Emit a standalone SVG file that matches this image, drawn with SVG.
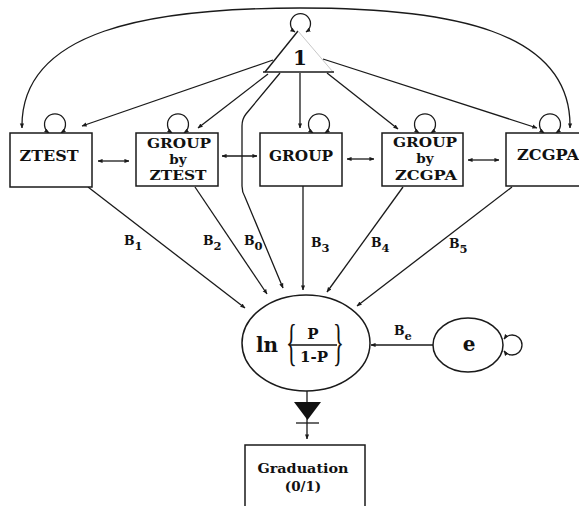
<svg xmlns="http://www.w3.org/2000/svg" width="579" height="506" viewBox="0 0 579 506">
  <style>
    .ln { fill: none; stroke: #1a1a1a; stroke-width: 1.3; }
    .box { fill: #fff; stroke: #1a1a1a; stroke-width: 1.5; }
    .node { fill: #fff; stroke: #1a1a1a; stroke-width: 1.5; }
    .lbl { font-family: "DejaVu Serif", "Liberation Serif", serif; font-weight: bold; fill: #111; text-anchor: middle; }
    .b { font-family: "DejaVu Serif", "Liberation Serif", serif; font-weight: bold; fill: #111; font-size: 12.5px; }
    .bs { font-size: 11.5px; }
  </style>
  <defs>
    <marker id="arr" viewBox="0 0 6 6" refX="5.5" refY="3" markerWidth="5" markerHeight="5" markerUnits="userSpaceOnUse" orient="auto-start-reverse">
      <path d="M0,0.5 L6,3 L0,5.5 z" fill="#1a1a1a"/>
    </marker>
  </defs>

  <!-- connectors -->
  <g id="connectors">
    <!-- covariance arc between ZTEST and ZCGPA -->
    <path class="ln" d="M22,128 C20,30 150,8 300,8 C450,8 572,30 570,128" marker-start="url(#arr)" marker-end="url(#arr)"/>
    <!-- constant to observed variables -->
    <line class="ln" x1="273" y1="60" x2="82" y2="126" marker-end="url(#arr)"/>
    <line class="ln" x1="268" y1="74" x2="198" y2="128" marker-end="url(#arr)"/>
    <line class="ln" x1="300" y1="73" x2="300" y2="128" marker-end="url(#arr)"/>
    <line class="ln" x1="327" y1="73" x2="398" y2="129" marker-end="url(#arr)"/>
    <line class="ln" x1="323" y1="59" x2="537" y2="128" marker-end="url(#arr)"/>
    <!-- intercept path B0 -->
    <path class="ln" d="M280,73 L246,114 Q242,119 242,126 L242,186 Q242,192 245,197 L283,288" marker-end="url(#arr)"/>
    <!-- covariances between neighbouring variables -->
    <line class="ln" x1="98" y1="161" x2="129" y2="161" marker-start="url(#arr)" marker-end="url(#arr)"/>
    <line class="ln" x1="222" y1="156" x2="257" y2="156" marker-start="url(#arr)" marker-end="url(#arr)"/>
    <line class="ln" x1="347" y1="159" x2="374" y2="159" marker-start="url(#arr)" marker-end="url(#arr)"/>
    <line class="ln" x1="468" y1="160" x2="499" y2="160" marker-start="url(#arr)" marker-end="url(#arr)"/>
    <!-- variance loops -->
    <path class="ln" d="M49,133 A10.5,10.5 0 1 1 61,133" marker-start="url(#arr)" marker-end="url(#arr)"/>
    <path class="ln" d="M172,133 A10.5,10.5 0 1 1 184,133" marker-start="url(#arr)" marker-end="url(#arr)"/>
    <path class="ln" d="M313,133 A10.5,10.5 0 1 1 325,133" marker-start="url(#arr)" marker-end="url(#arr)"/>
    <path class="ln" d="M419,133 A10.5,10.5 0 1 1 431,133" marker-start="url(#arr)" marker-end="url(#arr)"/>
    <path class="ln" d="M544,133 A10.5,10.5 0 1 1 556,133" marker-start="url(#arr)" marker-end="url(#arr)"/>
    <path class="ln" d="M295,32 A10,10 0 1 1 306,32" marker-start="url(#arr)" marker-end="url(#arr)"/>
    <path class="ln" d="M504,339 A10,10 0 1 1 504,351" marker-start="url(#arr)" marker-end="url(#arr)"/>
    <!-- regression paths to the logit -->
    <line class="ln" x1="88" y1="187" x2="245" y2="308" marker-end="url(#arr)"/>
    <line class="ln" x1="195" y1="187" x2="267" y2="294" marker-end="url(#arr)"/>
    <line class="ln" x1="303" y1="186" x2="303" y2="290" marker-end="url(#arr)"/>
    <line class="ln" x1="403" y1="187" x2="327" y2="292" marker-end="url(#arr)"/>
    <line class="ln" x1="512" y1="187" x2="357" y2="306" marker-end="url(#arr)"/>
    <!-- error term -->
    <line class="ln" x1="433" y1="345" x2="371" y2="345" marker-end="url(#arr)"/>
    <!-- threshold to outcome -->
    <line class="ln" x1="307" y1="391" x2="307" y2="439" marker-end="url(#arr)"/>
    <polygon points="294,402 321,402 307.5,420" fill="#111"/>
    <line class="ln" x1="296" y1="423" x2="319" y2="423"/>
  </g>

  <!-- path coefficients -->
  <g id="coefficients">
    <text class="b" x="124" y="245">B<tspan class="bs" dy="5">1</tspan></text>
    <text class="b" x="203" y="245">B<tspan class="bs" dy="5">2</tspan></text>
    <text class="b" x="244" y="245">B<tspan class="bs" dy="5">0</tspan></text>
    <text class="b" x="311" y="247">B<tspan class="bs" dy="5">3</tspan></text>
    <text class="b" x="371" y="247">B<tspan class="bs" dy="5">4</tspan></text>
    <text class="b" x="449" y="248">B<tspan class="bs" dy="5">5</tspan></text>
    <text class="b" x="394" y="335">B<tspan class="bs" dy="5">e</tspan></text>
  </g>

  <!-- constant -->
  <g id="constant">
    <path d="M265,72 L298,31" fill="none" stroke="#1a1a1a" stroke-width="1.4"/>
    <path d="M298,31 L333,72" fill="none" stroke="#c8c8c8" stroke-width="1"/>
    <line x1="263" y1="72" x2="334" y2="72" stroke="#1a1a1a" stroke-width="1.5"/>
    <text class="lbl" x="300" y="65" font-size="20">1</text>
  </g>

  <g id="ztest">
    <rect class="box" x="10" y="133" width="82" height="54"/>
    <text class="lbl" x="49" y="161" font-size="15" textLength="59" lengthAdjust="spacingAndGlyphs">ZTEST</text>
  </g>

  <g id="group-by-ztest">
    <rect class="box" x="136" y="133" width="82" height="53"/>
    <text class="lbl" x="179" y="148" font-size="13.5" textLength="64" lengthAdjust="spacingAndGlyphs">GROUP</text>
    <text class="lbl" x="178" y="164" font-size="13.5">by</text>
    <text class="lbl" x="178" y="180" font-size="13.5" textLength="57" lengthAdjust="spacingAndGlyphs">ZTEST</text>
  </g>

  <g id="group">
    <rect class="box" x="260" y="133" width="82" height="53"/>
    <text class="lbl" x="301" y="161" font-size="15" textLength="64" lengthAdjust="spacingAndGlyphs">GROUP</text>
  </g>

  <g id="group-by-zcgpa">
    <rect class="box" x="382" y="133" width="81" height="53"/>
    <text class="lbl" x="425" y="147" font-size="13.5" textLength="64" lengthAdjust="spacingAndGlyphs">GROUP</text>
    <text class="lbl" x="425" y="163" font-size="13.5">by</text>
    <text class="lbl" x="426" y="180" font-size="13.5" textLength="62" lengthAdjust="spacingAndGlyphs">ZCGPA</text>
  </g>

  <g id="zcgpa">
    <rect class="box" x="506" y="133" width="90" height="53"/>
    <text class="lbl" x="548" y="160" font-size="15" textLength="62" lengthAdjust="spacingAndGlyphs">ZCGPA</text>
  </g>

  <!-- logit of P -->
  <g id="logit">
    <ellipse class="node" cx="306" cy="343" rx="64" ry="48"/>
    <text class="lbl" x="267" y="352" font-size="20">ln</text>
    <text x="0" y="0" font-family="Liberation Serif, serif" font-size="50" fill="#111" transform="translate(286,359) scale(0.45,1)">{</text>
    <text x="0" y="0" font-family="Liberation Serif, serif" font-size="50" fill="#111" transform="translate(333,359) scale(0.45,1)">}</text>
    <line x1="290" y1="345" x2="337" y2="345" stroke="#111" stroke-width="1.6"/>
    <text class="lbl" x="313" y="339" font-size="15">P</text>
    <text class="lbl" x="314" y="362" font-size="15">1-P</text>
  </g>

  <!-- error -->
  <g id="error">
    <ellipse class="node" cx="468" cy="345" rx="35" ry="27"/>
    <text class="lbl" x="469" y="351" font-size="20">e</text>
  </g>

  <g id="graduation">
    <rect class="box" x="245" y="445" width="120" height="80"/>
    <text class="lbl" x="303" y="473" font-size="13.5" textLength="91" lengthAdjust="spacingAndGlyphs">Graduation</text>
    <text class="lbl" x="303" y="491" font-size="13.5">(0/1)</text>
  </g>
</svg>
